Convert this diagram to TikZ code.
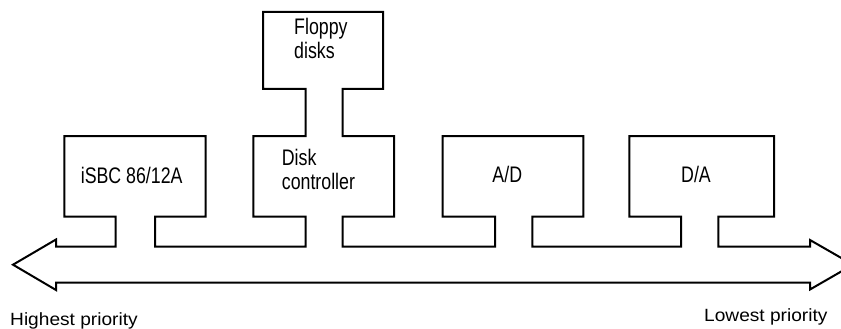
\documentclass[tikz,border=0pt]{standalone}
\usepackage{fontspec}
\newfontfamily\boxfont[FakeStretch=0.79]{Liberation Sans}
\newfontfamily\lblfont[FakeStretch=1.08]{Liberation Sans}
\begin{document}
\begin{tikzpicture}[x=1pt,y=-1pt,
  outline/.style={draw=black,line width=2pt,line join=miter},
  boxtext/.style={inner sep=0pt,font=\boxfont\fontsize{22.5}{24}\selectfont},
  prio/.style={inner sep=0pt,anchor=base west,font=\lblfont\fontsize{17.7}{20}\selectfont}]
\useasboundingbox (0,0) rectangle (841,329);
\clip (0,0) rectangle (841,329);
% bus with stems and boxes as one outline
\draw[outline]
  (56,246.7) -- (56,239.5) -- (13,264.7) -- (56,290) -- (56,282.7)
  -- (810,282.7) -- (810,289.5) -- (853,264.7) -- (810,240) -- (810,246.7)
  -- (718.3,246.7) -- (718.3,216.7) -- (774,216.7) -- (774,136) -- (629.3,136)
  -- (629.3,216.7) -- (681,216.7) -- (681,246.7)
  -- (532.3,246.7) -- (532.3,216.7) -- (583.3,216.7) -- (583.3,136) -- (442.7,136)
  -- (442.7,216.7) -- (495,216.7) -- (495,246.7)
  -- (342.7,246.7) -- (342.7,216.7) -- (394,216.7) -- (394,136) -- (342.7,136)
  -- (342.7,89) -- (383,89) -- (383,12) -- (263,12) -- (263,89) -- (305.7,89)
  -- (305.7,136) -- (253.3,136) -- (253.3,216.7) -- (305.7,216.7) -- (305.7,246.7)
  -- (155,246.7) -- (155,216.7) -- (205.7,216.7) -- (205.7,136) -- (64.3,136)
  -- (64.3,216.7) -- (115.7,216.7) -- (115.7,246.7) -- cycle;
% labels
\node[boxtext,anchor=base] (isbc) at (131.7,183) {iSBC 86/12A};
\node[boxtext,anchor=west,align=left] (dc) at (281.7,169.2) {Disk\\controller};
\node[boxtext,anchor=west,align=left] (fd) at (294,38.9) {Floppy\\disks};
\node[boxtext,anchor=base] (ad) at (507.3,182.5) {A/D};
\node[boxtext,anchor=base] (da) at (696,182.5) {D/A};
\node[prio] (hi) at (10,325) {Highest priority};
\node[prio] (lo) at (704,321) {Lowest priority};
\end{tikzpicture}
\end{document}
